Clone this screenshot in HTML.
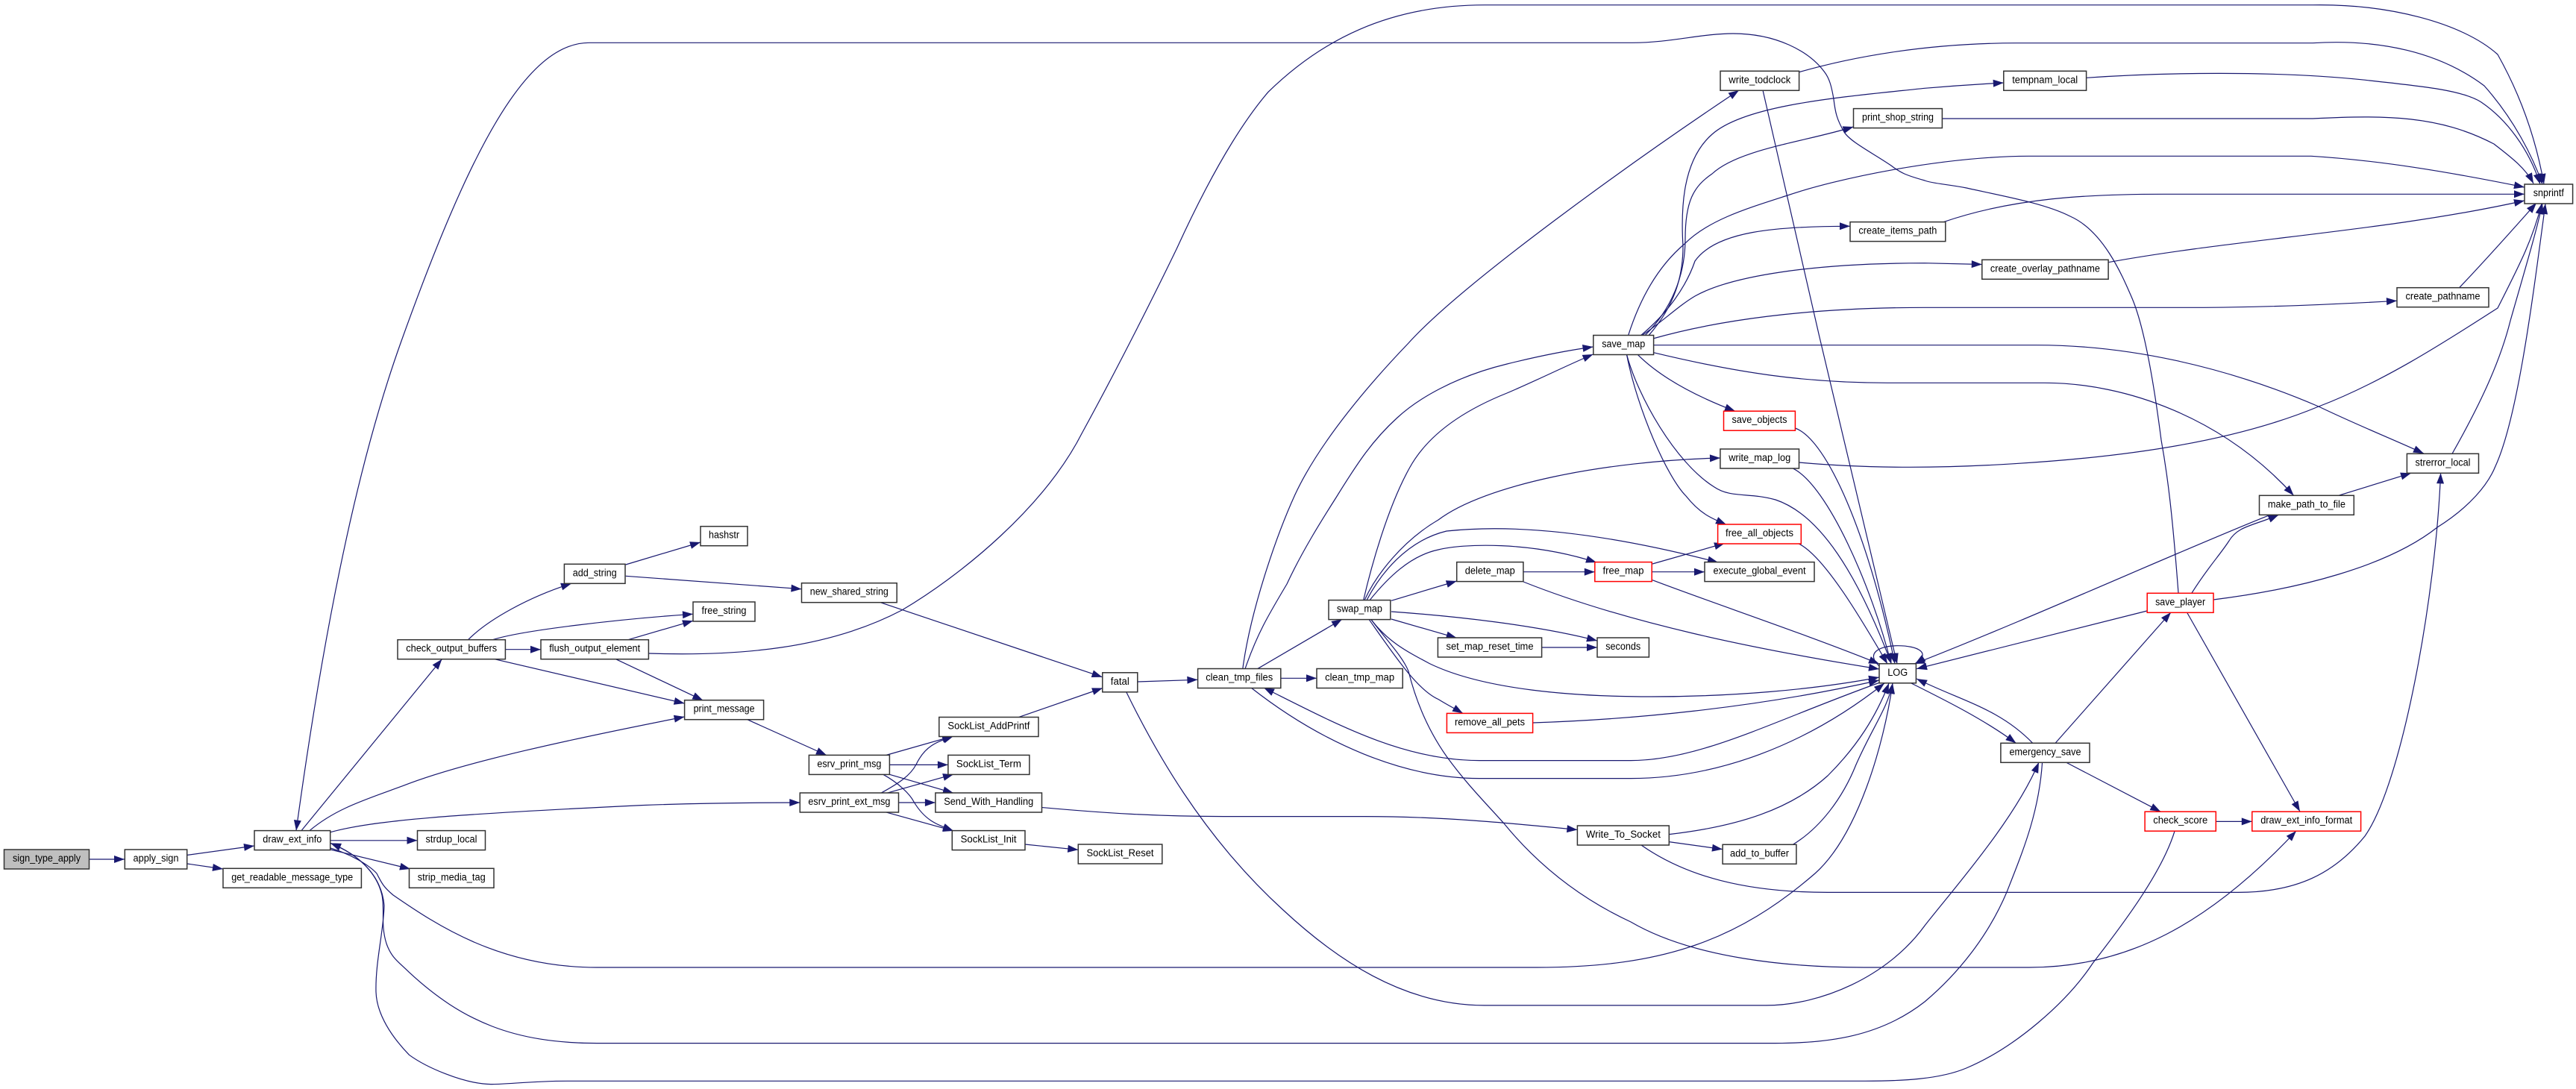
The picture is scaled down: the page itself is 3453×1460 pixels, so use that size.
<!DOCTYPE html>
<html><head><meta charset="utf-8"><title>sign_type_apply call graph</title>
<style>
html,body{margin:0;padding:0;background:#fff}
svg{display:block}
text{font-family:"Liberation Sans",sans-serif;font-size:13.5px;fill:#000;text-anchor:middle}
.n rect{fill:#fff;stroke:#333;stroke-width:1.5}
.r rect{fill:#fff;stroke:#f00;stroke-width:1.5}
.g rect{fill:#bfbfbf;stroke:#333;stroke-width:1.5}
</style></head><body>
<svg xmlns="http://www.w3.org/2000/svg" width="3453" height="1460" viewBox="0 0 3453 1460">
<defs><marker id="a" markerUnits="userSpaceOnUse" markerWidth="14" markerHeight="10" refX="14" refY="5" orient="auto" overflow="visible"><path d="M0,0 L14,5 L0,10 Z" fill="#191970" stroke="none"/></marker></defs>
<rect width="3453" height="1460" fill="#fff"/>
<g fill="none" stroke="#191970" stroke-width="1.2" marker-end="url(#a)" stroke-linejoin="round">
<path d="M120,1152 L167,1152"/>
<path d="M251,1146.4 L341,1134"/>
<path d="M251,1158 L299,1165"/>
<path d="M443,1126.8 L559.5,1126.8"/>
<path d="M443,1139 L550,1165"/>
<path d="M404,1113.6 L592.4,883.7"/>
<path d="M415,1113.6 C450,1084 490,1072 540,1053.6 C620,1022 770,990 917.6,961"/>
<path d="M443,1115.7 C500,1100 600,1092 860,1079.6 C930,1077 1000,1076 1072.3,1076"/>
<path d="M2920,795 C2912,690 2906,640 2897,590 C2888,520 2875,440 2858,400 C2845,370 2820,310 2775,290 C2740,272 2680,262 2636,252 C2610,247 2590,246 2580,242 C2555,235 2548,232 2535,222 C2510,205 2480,190 2472,177 C2462,160 2460,150 2458,133 C2455,115 2452,105 2446,97 C2425,68 2380,45 2323,45 C2280,45 2240,57.3 2188,57.3 L790,57.3 C705,57 630,200 537,460 C487,600 440,800 397,1113.6"/>
<path d="M443,1137 C470,1145 495,1160 505,1171 C512,1185 515,1190 527,1200 C585,1240 670,1297 800,1297 L2060,1297 C2230,1297 2330,1260 2433,1171 C2490,1120 2525,1000 2537,916"/>
<path d="M2737.6,1022 C2733,1090 2712,1140 2690,1196 C2665,1255 2625,1305 2580,1343 C2520,1390 2450,1398.6 2380,1398.6 L800,1398.6 C690,1398.6 620,1370 548.5,1303.6 C535,1290 525,1285 518,1265 C510,1240 516,1220 512,1200 C505,1170 480,1145 443,1130.4"/>
<path d="M2915,1114.3 C2898,1170 2845,1240 2805.5,1291 C2770,1345 2700,1405 2635.7,1432 C2600,1447 2550,1449.3 2500,1449.3 L760,1449.3 C710,1449.3 680,1454 658,1453.6 C620,1453 570,1430 548.5,1414.3 C525,1390 505,1360 504,1330 C503,1290 514,1250 515,1214 C512,1180 490,1150 443,1130.4"/>
<path d="M627.5,857.7 C655,830 710,800 766,782.3"/>
<path d="M660.4,857.7 C700,845 830,830 929,823.3"/>
<path d="M677.4,870.7 L725,870.7"/>
<path d="M663,883.7 L917.6,943"/>
<path d="M825.5,883.7 L942.3,938.9"/>
<path d="M842,857.7 L929,832.3"/>
<path d="M869.4,876 C990,880 1110,870 1209,818 C1290,770 1400,680 1450.7,580 C1500,490 1550,390 1577.5,333 C1620,240 1660,170 1700,123.3 C1770,55 1860,6.7 1990,6.7 L3100,6.7 C3200,5 3300,30 3348,73 C3380,130 3400,190 3410,247"/>
<path d="M838.7,757 L939,727"/>
<path d="M838.7,772.3 L1074.5,789.7"/>
<path d="M1179,807.3 L1477.6,907.7"/>
<path d="M1364.7,961.8 L1478,922.5"/>
<path d="M1524.8,914 L1605.4,911.3"/>
<path d="M1717,909.3 L1765,909.3"/>
<path d="M1685.5,896.7 L1799,830.3"/>
<path d="M1665.8,896.7 C1676,820 1710,720 1736,663 C1770,590 1840,510 1888,460 C1960,380 2190,215 2331,121"/>
<path d="M1669,896.7 C1685,850 1700,825 1725,783 C1745,740 1770,700 1791,667 C1820,620 1840,590 1873,560 C1900,535 1950,505 2020,488 C2060,478 2100,470 2135.5,465"/>
<path d="M1827.6,804.7 C1838,760 1860,680 1889.6,627 C1910,590 1950,555 2020,527 C2060,510 2100,490 2135.5,475"/>
<path d="M2520,915 C2380,965 2280,1019.6 2186,1019.6 L1983,1019.6 C1880,1019.6 1790,970 1694,922"/>
<path d="M1677,922 C1770,995 1880,1043.6 1983,1043.6 L2186,1043.6 C2300,1043.6 2420,1000 2526,916"/>
<path d="M1865,805.3 L1952.7,779"/>
<path d="M1865,830 L1952.7,855.3"/>
<path d="M1865,820 C1950,826 2060,838 2141,859"/>
<path d="M2066.6,868 L2141,868"/>
<path d="M2042,766.7 L2137.8,766.7"/>
<path d="M2042,780 C2180,835 2350,870 2519,897"/>
<path d="M1836,804.7 C1860,775 1890,745 1928,737 C1960,729 2050,725 2140,754"/>
<path d="M1832,804.7 C1850,770 1885,725 1939,712 C2050,700 2180,722 2303,754"/>
<path d="M1829,804.7 C1845,770 1880,725 1928,697 C1990,650 2150,618 2306,614"/>
<path d="M1837.5,830 C1860,860 1885,873 1917,890 C1990,925 2110,934 2214,934 C2320,934 2430,925 2519,908"/>
<path d="M1835,830.3 C1870,880 1900,925 1928,937.5 C1940,945 1950,950 1961,956.4"/>
<path d="M1837.5,830 C1860,860 1880,880 1888,900 C1898,940 1915,980 1939,1014 C1965,1050 1990,1075 2016,1104 C2070,1170 2130,1210 2186,1236 C2270,1285 2400,1297 2499,1297 L2720,1297 C2850,1297 2960,1240 3078,1114"/>
<path d="M2200,1133 C2260,1175 2340,1196.4 2450,1196.4 L3000,1196.4 C3080,1196.4 3130,1170 3170,1121 C3220,1050 3265,800 3271.6,634.3"/>
<path d="M1396.5,1082.5 C1480,1090 1550,1094.6 1640,1094.6 L1830,1094.6 C1930,1094.6 2020,1103 2114.4,1112.5"/>
<path d="M2237.3,1128.6 L2309,1138.6"/>
<path d="M2237.3,1118.6 C2330,1108 2400,1085 2450,1040 C2490,1000 2515,960 2532,916"/>
<path d="M2403,1132.5 C2440,1110 2470,1070 2488,1025 C2510,975 2530,950 2537,916"/>
<path d="M2054.6,969 C2180,965 2350,950 2519,912"/>
<path d="M1509.4,927 C1545,1000 1610,1120 1720,1220 C1790,1285 1880,1347.9 1990,1347.9 L2367,1347.9 C2440,1347.9 2530,1310 2580,1241 C2620,1190 2700,1100 2733,1022"/>
<path d="M2561,915.5 C2610,940 2660,965 2702.5,996.4"/>
<path d="M2724.8,996.4 C2680,950 2630,940 2569,910"/>
<path d="M2769.3,1022 L2896.3,1088.2"/>
<path d="M2970.3,1101.4 L3018.8,1101.4"/>
<path d="M2755,996.4 L2910,821"/>
<path d="M2931.5,821 L3083,1088"/>
<path d="M2878,819 L2569,896.7"/>
<path d="M2937.8,795.3 C2960,760 2975,745 2988,725 C3000,705 3020,705 3054.5,690.3"/>
<path d="M3043,690.3 C2930,735 2720,830 2566,890"/>
<path d="M3134.7,664.3 L3232,634.3"/>
<path d="M3287,608.3 C3320,550 3350,490 3365,430 C3385,360 3400,310 3408,273"/>
<path d="M2411.5,620 C2500,628 2600,628 2700,621.7 C2860,612 3000,590 3108,545 C3200,510 3290,450 3348,413 C3380,350 3395,320 3407,273"/>
<path d="M2967,804 C3080,790 3200,760 3267,707 C3310,680 3335,650 3345,625 C3375,560 3395,400 3412,273"/>
<path d="M3296.6,385.7 C3340,340 3375,300 3400,272"/>
<path d="M2210,449.7 C2245,410 2256,370 2256,330 C2253,280 2255,215 2295,180 C2340,140 2470,130 2580,118.3 C2620,115 2650,113 2685.8,111"/>
<path d="M2205,449.7 C2240,415 2259,370 2259,320 C2259,270 2270,250 2295,233 C2330,200 2420,190 2484.5,170"/>
<path d="M2182.6,449.7 C2200,395 2225,355 2258,327 C2290,295 2340,280 2396,262 C2460,240 2600,210 2719,209.3 L3098,209.3 C3190,215 3280,230 3384,251"/>
<path d="M2199.4,449.7 C2235,420 2260,385 2272,350 C2300,310 2380,303.3 2480,303.3"/>
<path d="M2201,449.7 C2230,430 2250,410 2272,397 C2320,370 2430,352.7 2580,352.7 L2656.8,354.5"/>
<path d="M2215.7,454 C2300,430 2420,412.3 2580,412.3 L2942,412.3 C3030,412.3 3130,408 3213,403.3"/>
<path d="M2216.5,462.7 L2730,462.7 C2850,462.7 2980,490 3108,545 C3160,570 3210,590 3249,608"/>
<path d="M2216.5,472.7 C2330,500 2420,513.3 2530,513.3 L2740,513.3 C2850,513.3 2980,560 3074.6,664.3"/>
<path d="M2195.5,475.7 C2225,505 2270,530 2326,551.3"/>
<path d="M2180.6,475.7 C2195,530 2245,620 2298,653 C2320,668 2345,660 2380,670 C2440,690 2490,770 2535.4,890"/>
<path d="M2180.6,475.7 C2195,550 2235,640 2260,665 C2280,690 2295,695 2314,703.3"/>
<path d="M2411.6,96.7 C2480,77 2580,58 2702,57.7 L3100,57.7 C3190,52 3270,70 3330,115 C3370,160 3395,210 3408,247"/>
<path d="M2363,121 L2438.5,450 L2543,890"/>
<path d="M2796.6,104.3 C2900,97 3050,95 3164.6,106.7 C3240,115 3300,120 3326,137 C3360,160 3390,200 3405,247"/>
<path d="M2603.4,159 L3100,159 C3200,154 3270,155 3343,193 C3365,210 3385,225 3396,246"/>
<path d="M2605,297.7 C2700,265 2800,260.3 2900,260.3 L3384,260.3"/>
<path d="M2826,351.7 C3000,320 3200,310 3384,269"/>
<path d="M2406.4,574 C2450,590 2505,720 2540,890"/>
<path d="M2402.7,627.7 C2450,650 2510,790 2535,890"/>
<path d="M2410.6,728.7 C2445,745 2495,830 2530,890"/>
<path d="M2215,756 L2312,728.3"/>
<path d="M2214,766.7 L2285,766.7"/>
<path d="M2215,777.7 C2300,810 2420,850 2519,890"/>
<path d="M2519,893 C2500,875 2520,865.7 2544,865.7 C2570,865.7 2590,875 2567,890"/>
<path d="M1001.5,964.6 L1108,1012.5"/>
<path d="M1187.5,1012.5 L1277,987"/>
<path d="M1192.4,1025.4 L1270.9,1025.4"/>
<path d="M1192,1038.2 L1278,1063.2"/>
<path d="M1183.6,1038.2 C1205,1050 1220,1065 1225,1075 C1240,1100 1255,1105 1278,1113.9"/>
<path d="M1181,1063.2 C1205,1050 1220,1040 1228,1025 C1240,1000 1255,995 1278,987"/>
<path d="M1189,1063.2 L1278,1038.2"/>
<path d="M1204.5,1076 L1253.9,1076"/>
<path d="M1186.4,1088.6 L1278,1113.9"/>
<path d="M1374,1132 L1445.3,1139.3"/>
</g>
<g class="g"><rect x="5.5" y="1139" width="114" height="26"/><text x="62.5" y="1155" textLength="91" lengthAdjust="spacingAndGlyphs">sign_type_apply</text></g>
<g class="n"><rect x="167.3" y="1139" width="83.4" height="26"/><text x="209" y="1155" textLength="61" lengthAdjust="spacingAndGlyphs">apply_sign</text></g>
<g class="n"><rect x="341" y="1113.6" width="101.7" height="26"/><text x="391.8" y="1129.6" textLength="79" lengthAdjust="spacingAndGlyphs">draw_ext_info</text></g>
<g class="n"><rect x="559.5" y="1113.6" width="91" height="26"/><text x="605" y="1129.6" textLength="69" lengthAdjust="spacingAndGlyphs">strdup_local</text></g>
<g class="n"><rect x="299" y="1164.3" width="185.4" height="26"/><text x="391.7" y="1180.3" textLength="163" lengthAdjust="spacingAndGlyphs">get_readable_message_type</text></g>
<g class="n"><rect x="548.5" y="1164.3" width="113.5" height="26"/><text x="605.2" y="1180.3" textLength="91" lengthAdjust="spacingAndGlyphs">strip_media_tag</text></g>
<g class="n"><rect x="917.6" y="938.7" width="106" height="26"/><text x="970.6" y="954.7" textLength="82" lengthAdjust="spacingAndGlyphs">print_message</text></g>
<g class="n"><rect x="1084.4" y="1012.4" width="108" height="26"/><text x="1138.4" y="1028.4" textLength="86" lengthAdjust="spacingAndGlyphs">esrv_print_msg</text></g>
<g class="n"><rect x="1072.3" y="1063" width="132.2" height="26"/><text x="1138.4" y="1079" textLength="110" lengthAdjust="spacingAndGlyphs">esrv_print_ext_msg</text></g>
<g class="n"><rect x="1258.8" y="961.5" width="133.2" height="26"/><text x="1325.4" y="977.5" textLength="110" lengthAdjust="spacingAndGlyphs">SockList_AddPrintf</text></g>
<g class="n"><rect x="1270.9" y="1012.4" width="109" height="26"/><text x="1325.4" y="1028.4" textLength="87" lengthAdjust="spacingAndGlyphs">SockList_Term</text></g>
<g class="n"><rect x="1253.9" y="1063" width="142.6" height="26"/><text x="1325.2" y="1079" textLength="120" lengthAdjust="spacingAndGlyphs">Send_With_Handling</text></g>
<g class="n"><rect x="1276.3" y="1113.6" width="97.7" height="26"/><text x="1325.1" y="1129.6" textLength="75" lengthAdjust="spacingAndGlyphs">SockList_Init</text></g>
<g class="n"><rect x="1445.3" y="1132" width="112.5" height="26"/><text x="1501.5" y="1148" textLength="90" lengthAdjust="spacingAndGlyphs">SockList_Reset</text></g>
<g class="n"><rect x="1477.8" y="901.8" width="47" height="26"/><text x="1501.3" y="917.8" textLength="25" lengthAdjust="spacingAndGlyphs">fatal</text></g>
<g class="n"><rect x="1605.6" y="896.5" width="111.2" height="26"/><text x="1661.2" y="912.5" textLength="90" lengthAdjust="spacingAndGlyphs">clean_tmp_files</text></g>
<g class="n"><rect x="1765" y="896.5" width="115.2" height="26"/><text x="1822.6" y="912.5" textLength="93" lengthAdjust="spacingAndGlyphs">clean_tmp_map</text></g>
<g class="n"><rect x="939" y="705.7" width="63" height="26"/><text x="970.5" y="721.7" textLength="41" lengthAdjust="spacingAndGlyphs">hashstr</text></g>
<g class="n"><rect x="756.4" y="756.3" width="81.6" height="26"/><text x="797.2" y="772.3" textLength="59" lengthAdjust="spacingAndGlyphs">add_string</text></g>
<g class="n"><rect x="1074.5" y="781.7" width="127.7" height="26"/><text x="1138.3" y="797.7" textLength="105" lengthAdjust="spacingAndGlyphs">new_shared_string</text></g>
<g class="n"><rect x="929" y="807" width="83" height="26"/><text x="970.5" y="823" textLength="60" lengthAdjust="spacingAndGlyphs">free_string</text></g>
<g class="n"><rect x="533" y="857.7" width="144.4" height="26"/><text x="605.2" y="873.7" textLength="122" lengthAdjust="spacingAndGlyphs">check_output_buffers</text></g>
<g class="n"><rect x="725" y="857.7" width="144.4" height="26"/><text x="797.2" y="873.7" textLength="122" lengthAdjust="spacingAndGlyphs">flush_output_element</text></g>
<g class="n"><rect x="1781" y="804.6" width="82.8" height="26"/><text x="1822.4" y="820.6" textLength="61" lengthAdjust="spacingAndGlyphs">swap_map</text></g>
<g class="n"><rect x="1952.7" y="753.6" width="89.2" height="26"/><text x="1997.3" y="769.6" textLength="67" lengthAdjust="spacingAndGlyphs">delete_map</text></g>
<g class="n"><rect x="1927.4" y="855" width="139.2" height="26"/><text x="1997" y="871" textLength="117" lengthAdjust="spacingAndGlyphs">set_map_reset_time</text></g>
<g class="n"><rect x="2135.8" y="449.5" width="80.8" height="26"/><text x="2176.2" y="465.5" textLength="58" lengthAdjust="spacingAndGlyphs">save_map</text></g>
<g class="r"><rect x="2310.5" y="551.2" width="95.9" height="26"/><text x="2358.5" y="567.2" textLength="74" lengthAdjust="spacingAndGlyphs">save_objects</text></g>
<g class="n"><rect x="2305.9" y="602" width="105.6" height="26"/><text x="2358.7" y="618" textLength="83" lengthAdjust="spacingAndGlyphs">write_map_log</text></g>
<g class="r"><rect x="2302.6" y="703" width="111.7" height="26"/><text x="2358.5" y="719" textLength="91" lengthAdjust="spacingAndGlyphs">free_all_objects</text></g>
<g class="r"><rect x="2137.8" y="753.6" width="76.4" height="26"/><text x="2176" y="769.6" textLength="55" lengthAdjust="spacingAndGlyphs">free_map</text></g>
<g class="n"><rect x="2285" y="753.6" width="147" height="26"/><text x="2358.5" y="769.6" textLength="124" lengthAdjust="spacingAndGlyphs">execute_global_event</text></g>
<g class="n"><rect x="2141" y="855" width="69.4" height="26"/><text x="2175.7" y="871" textLength="47" lengthAdjust="spacingAndGlyphs">seconds</text></g>
<g class="n"><rect x="2519" y="889.8" width="49.4" height="26"/><text x="2543.7" y="905.8" textLength="27" lengthAdjust="spacingAndGlyphs">LOG</text></g>
<g class="r"><rect x="1939.4" y="956.4" width="115.2" height="26"/><text x="1997" y="972.4" textLength="94" lengthAdjust="spacingAndGlyphs">remove_all_pets</text></g>
<g class="n"><rect x="2114.4" y="1107" width="122.9" height="26"/><text x="2175.9" y="1123" textLength="100" lengthAdjust="spacingAndGlyphs">Write_To_Socket</text></g>
<g class="n"><rect x="2309.1" y="1132.3" width="98.8" height="26"/><text x="2358.5" y="1148.3" textLength="79" lengthAdjust="spacingAndGlyphs">add_to_buffer</text></g>
<g class="n"><rect x="2681.9" y="996.3" width="119.1" height="26"/><text x="2741.5" y="1012.3" textLength="96" lengthAdjust="spacingAndGlyphs">emergency_save</text></g>
<g class="r"><rect x="2875.1" y="1088.2" width="95.2" height="26"/><text x="2922.7" y="1104.2" textLength="73" lengthAdjust="spacingAndGlyphs">check_score</text></g>
<g class="r"><rect x="3018.8" y="1088.2" width="145.8" height="26"/><text x="3091.7" y="1104.2" textLength="123" lengthAdjust="spacingAndGlyphs">draw_ext_info_format</text></g>
<g class="n"><rect x="3226.4" y="608.3" width="96.1" height="26"/><text x="3274.5" y="624.3" textLength="74" lengthAdjust="spacingAndGlyphs">strerror_local</text></g>
<g class="n"><rect x="3028.5" y="664.3" width="126.8" height="26"/><text x="3091.9" y="680.3" textLength="104" lengthAdjust="spacingAndGlyphs">make_path_to_file</text></g>
<g class="r"><rect x="2878.2" y="795.3" width="88.8" height="26"/><text x="2922.6" y="811.3" textLength="67" lengthAdjust="spacingAndGlyphs">save_player</text></g>
<g class="n"><rect x="2306" y="95.3" width="105.6" height="26"/><text x="2358.8" y="111.3" textLength="83" lengthAdjust="spacingAndGlyphs">write_todclock</text></g>
<g class="n"><rect x="2484.5" y="145.6" width="118.9" height="26"/><text x="2544" y="161.6" textLength="96" lengthAdjust="spacingAndGlyphs">print_shop_string</text></g>
<g class="n"><rect x="2480" y="297.6" width="127.8" height="26"/><text x="2543.9" y="313.6" textLength="105" lengthAdjust="spacingAndGlyphs">create_items_path</text></g>
<g class="n"><rect x="2685.8" y="95.3" width="110.8" height="26"/><text x="2741.2" y="111.3" textLength="88" lengthAdjust="spacingAndGlyphs">tempnam_local</text></g>
<g class="n"><rect x="2656.8" y="348.3" width="169.3" height="26"/><text x="2741.4" y="364.3" textLength="147" lengthAdjust="spacingAndGlyphs">create_overlay_pathname</text></g>
<g class="n"><rect x="3213" y="385.7" width="123" height="26"/><text x="3274.5" y="401.7" textLength="100" lengthAdjust="spacingAndGlyphs">create_pathname</text></g>
<g class="n"><rect x="3384" y="247" width="64.6" height="26"/><text x="3416.3" y="263" textLength="41" lengthAdjust="spacingAndGlyphs">snprintf</text></g>
</svg>
</body></html>
